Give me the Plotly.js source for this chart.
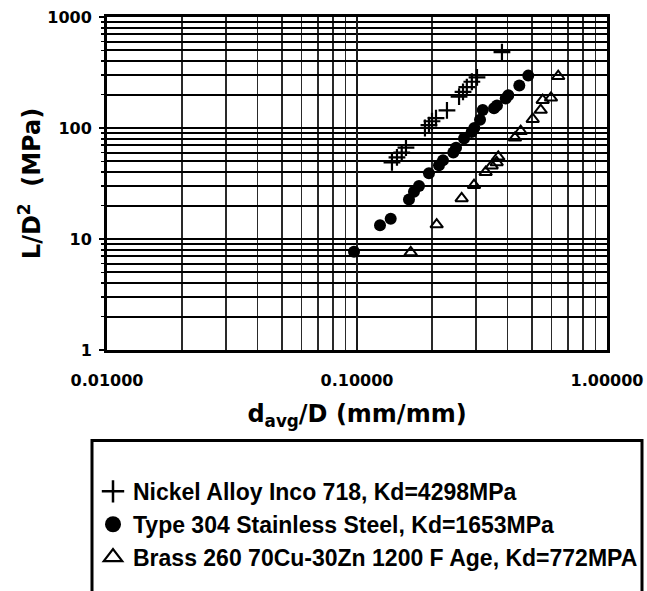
<!DOCTYPE html>
<html><head><meta charset="utf-8">
<script src="https://cdn.plot.ly/plotly-3.0.1.min.js"></script>
<style>html,body{margin:0;padding:0;background:#fff}</style>
</head><body><div id="chart" style="width:647px;height:591px"></div>
<script>
// ---- data ----
const nickelName = 'Nickel Alloy Inco 718, Kd=4298MPa';
const nickelX = [0.138,0.1445,0.151,0.157,0.187,0.194,0.1995,0.207,0.229,0.256,0.2655,0.275,0.288,0.302,0.380];
const nickelY = [49.0,54.3,60.1,66.5,100,106,115,122.6,144,192,212,233,261,286,483];

const steelName = 'Type 304 Stainless Steel, Kd=1653MPa';
const steelX = [0.0973,0.1236,0.1364,0.1614,0.169,0.177,0.194,0.2128,0.2208,0.2428,0.249,0.268,0.2875,0.2946,0.3105,0.3184,0.3532,0.363,0.3934,0.4029,0.4459,0.4842];
const steelY = [7.67,13.3,15.25,22.7,26.6,30.0,39.2,46.1,51.1,60.1,66.5,80.4,92.2,100,118.4,145.2,150.3,159.8,184.2,197.1,241.6,296.4];

const brassName = 'Brass 260 70Cu-30Zn 1200 F Age, Kd=772MPA';
const brassX = [0.164,0.2083,0.2622,0.2938,0.327,0.3457,0.362,0.3674,0.4285,0.4516,0.5045,0.543,0.553,0.597,0.638];
const brassY = [7.57,13.49,23.2,30.5,40.0,45.8,49.0,55.0,81.6,93.5,120.2,145.2,178,187,292.6];

const xTickVals = [0.01, 0.1, 1];
const xTickText = ['0.01000', '0.10000', '1.00000'];
const yTickVals = [1, 10, 100, 1000];
const yTickText = ['1', '10', '100', '1000'];
const minorDigits = [2,3,4,5,6,7,8,9];

// ---- build ----
function minorVals(decades){
  const out = [];
  decades.forEach(d => minorDigits.forEach(m => out.push(d*m)));
  return out;
}
const xMinor = minorVals([0.01, 0.1]);
const yMinor = minorVals([1, 10, 100]);

const tickFont = {family: 'DejaVu Sans, sans-serif', size: 16, color: '#000', weight: 'bold'};
const titleFont = {family: 'DejaVu Sans, sans-serif', size: 24, color: '#000', weight: 'bold'};

const nickelMarker = {symbol: 'cross-thin', size: 12, color: '#000', line: {width: 2.2, color: '#000'}};
const steelMarker = {symbol: 'circle', size: 12, color: '#000', line: {width: 0}};
const brassMarker = {symbol: 'triangle-up-open', size: 11, color: '#000', line: {width: 2, color: '#000'}};

const data = [
  {type: 'scatter', mode: 'markers', x: nickelX, y: nickelY, name: nickelName, marker: nickelMarker, showlegend: false},
  {type: 'scatter', mode: 'markers', x: steelX, y: steelY, name: steelName, marker: steelMarker, showlegend: false},
  {type: 'scatter', mode: 'markers', x: brassX, y: brassY, name: brassName, marker: brassMarker, showlegend: false},
  // legend entries (bigger symbols, as in the reference legend)
  {type: 'scatter', mode: 'markers', x: [null], y: [null], name: nickelName,
   marker: Object.assign({}, nickelMarker, {size: 16, line: {width: 2.5, color: '#000'}}), hoverinfo: 'skip'},
  {type: 'scatter', mode: 'markers', x: [null], y: [null], name: steelName,
   marker: Object.assign({}, steelMarker, {size: 16}), hoverinfo: 'skip'},
  {type: 'scatter', mode: 'markers', x: [null], y: [null], name: brassName,
   marker: Object.assign({}, brassMarker, {size: 16, line: {width: 2.2, color: '#000'}}), hoverinfo: 'skip'}
];

const layout = {
  width: 647, height: 591,
  margin: {l: 107, r: 40, t: 17, b: 235},
  paper_bgcolor: '#fff', plot_bgcolor: '#fff',
  showlegend: true,
  xaxis: {
    type: 'log', range: [-2, 0], automargin: false,
    tickmode: 'array', tickvals: xTickVals, ticktext: xTickText,
    ticks: '', tickfont: tickFont, ticklabelstandoff: 14,
    showgrid: true, gridcolor: '#1a1a1a', gridwidth: 1.8,
    minor: {tickmode: 'array', tickvals: xMinor, showgrid: true, gridcolor: '#2a2a2a', gridwidth: 1.8, ticks: ''},
    showline: true, linecolor: '#000', linewidth: 3, mirror: true, zeroline: false,
    title: {text: 'd<sub>avg</sub>/D (mm/mm)', font: titleFont, standoff: 16}
  },
  yaxis: {
    type: 'log', range: [0, 3], automargin: false,
    tickmode: 'array', tickvals: yTickVals, ticktext: yTickText,
    ticks: 'outside', ticklen: 5, tickwidth: 2, tickcolor: '#000',
    tickfont: tickFont, ticklabelstandoff: 4,
    showgrid: true, gridcolor: '#000', gridwidth: 2,
    minor: {tickmode: 'array', tickvals: yMinor, showgrid: true, gridcolor: '#000', gridwidth: 2,
            ticks: 'outside', ticklen: 3, tickwidth: 1.5, tickcolor: '#000'},
    showline: true, linecolor: '#000', linewidth: 3, mirror: true, zeroline: false,
    title: {text: 'L/D<sup>2</sup>  (MPa)', font: titleFont, standoff: 0}
  },
  legend: {
    x: -0.028, xanchor: 'left', y: -0.36, yanchor: 'top',
    bgcolor: 'rgba(0,0,0,0)', borderwidth: 0,
    font: {family: 'Liberation Sans, Arial, sans-serif', size: 23, color: '#000', weight: 'bold'},
    itemsizing: 'trace', tracegroupgap: 0
  },
  shapes: [
    {type: 'rect', xref: 'paper', yref: 'paper', x0: -0.03, x1: 1.07, y0: -0.2714, y1: -0.76,
     line: {color: '#000', width: 3}, fillcolor: 'rgba(0,0,0,0)', layer: 'below'}
  ]
};

Plotly.newPlot('chart', data, layout, {displayModeBar: false, staticPlot: true});
</script>
</body></html>
